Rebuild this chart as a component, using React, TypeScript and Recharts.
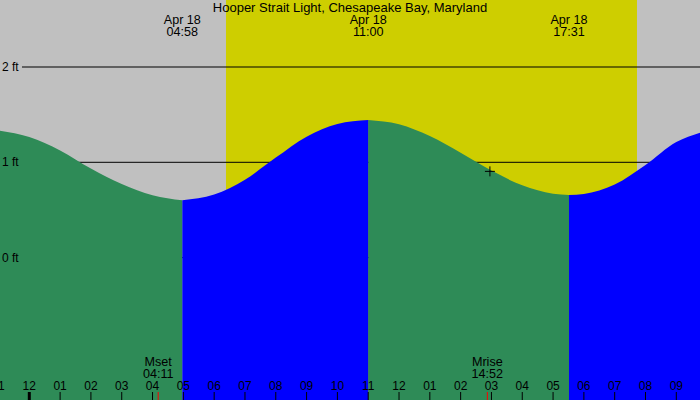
import React from 'react';
import { ComposedChart, Area, XAxis, YAxis, ReferenceArea, ReferenceLine, ReferenceDot } from 'recharts';

const TITLE = 'Hooper Strait Light, Chesapeake Bay, Maryland';
const FONT = '"Liberation Sans", Arial, sans-serif';

const X_MIN = -0.951;
const X_MAX = 21.769;
const Y_MIN = -1.494;
const Y_MAX = 2.703;

const HOURS = [-0.951, 0, 1, 2, 3, 4, 4.967, 6, 7, 8, 9, 10, 11, 12, 13, 14, 15, 16, 17, 17.517, 18, 19, 20, 21, 21.769];
const HEIGHTS = [1.332, 1.265, 1.125, 0.935, 0.772, 0.655, 0.601, 0.661, 0.818, 1.05, 1.269, 1.403, 1.444, 1.399, 1.275, 1.1, 0.913, 0.758, 0.67, 0.657, 0.668, 0.767, 0.972, 1.213, 1.311];

const LOW1 = 4.967;
const HIGH1 = 11;
const LOW2 = 17.517;

const EXTREME_HOURS = [4.967, 11, 17.517];
const EXTREME_DATES = ['Apr 18', 'Apr 18', 'Apr 18'];
const EXTREME_TIMES = ['04:58', '11:00', '17:31'];

const SUNRISE = 6.384;
const SUNSET = 19.724;

const MOON_HOURS = [4.183, 14.867];
const MOON_EVENTS = ['Mset', 'Mrise'];
const MOON_TIMES = ['04:11', '14:52'];

const TICK_HOURS = [-1, 0, 1, 2, 3, 4, 5, 6, 7, 8, 9, 10, 11, 12, 13, 14, 15, 16, 17, 18, 19, 20, 21];
const TICK_LABELS = ['11', '12', '01', '02', '03', '04', '05', '06', '07', '08', '09', '10', '11', '12', '01', '02', '03', '04', '05', '06', '07', '08', '09'];

const FT_TICKS = [0, 1, 2];
const FT_LABELS = ['0 ft', '1 ft', '2 ft'];
const LINE_START = -0.237;

const NOW_HOUR = 14.95;
const NOW_HEIGHT = 0.905;

const data = HOURS.map((h, i) => {
  const falling = h <= LOW1 || (h >= HIGH1 && h <= LOW2);
  const rising = (h >= LOW1 && h <= HIGH1) || h >= LOW2;
  return { h, fall: falling ? HEIGHTS[i] : null, rise: rising ? HEIGHTS[i] : null };
});

const HourTick = (props: any) => {
  const { x, payload } = props;
  const i = TICK_HOURS.indexOf(payload.value);
  return (
    <g>
      <line x1={x} x2={x} y1={392} y2={400} stroke="#000" strokeWidth={payload.value === 0 ? 3 : 1} />
      <text x={x} y={390} textAnchor="middle" fontSize={12} fontFamily={FONT} fill="#000">{TICK_LABELS[i]}</text>
    </g>
  );
};

const ExtremeTick = (props: any) => {
  const { x, payload } = props;
  const i = EXTREME_HOURS.indexOf(payload.value);
  return (
    <g>
      <text x={x} y={24} textAnchor="middle" fontSize={12.6} fontFamily={FONT} fill="#000">{EXTREME_DATES[i]}</text>
      <text x={x} y={36} textAnchor="middle" fontSize={12.6} fontFamily={FONT} fill="#000">{EXTREME_TIMES[i]}</text>
    </g>
  );
};

const MoonTick = (props: any) => {
  const { x, payload } = props;
  const i = MOON_HOURS.indexOf(payload.value);
  return (
    <g>
      <line x1={x} x2={x} y1={392} y2={400} stroke="#ff0000" strokeWidth={1} />
      <text x={x} y={366} textAnchor="middle" fontSize={12.6} fontFamily={FONT} fill="#000">{MOON_EVENTS[i]}</text>
      <text x={x} y={378} textAnchor="middle" fontSize={12.6} fontFamily={FONT} fill="#000">{MOON_TIMES[i]}</text>
    </g>
  );
};

const FtLabel = (props: any) => {
  const { viewBox, value } = props;
  const y = viewBox ? viewBox.y : 0;
  return (
    <text x={2} y={y + 4} textAnchor="start" fontSize={12} fontFamily={FONT} fill="#000">{value}</text>
  );
};

const Cross = (props: any) => {
  const { cx, cy } = props;
  return (
    <g>
      <line x1={cx - 5} x2={cx + 5} y1={cy} y2={cy} stroke="#000" strokeWidth={1} />
      <line x1={cx} x2={cx} y1={cy - 5} y2={cy + 5} stroke="#000" strokeWidth={1} />
    </g>
  );
};

export default function App() {
  return (
    <div style={{ position: 'absolute', left: 0, top: 0, width: 700, height: 400, background: '#C0C0C0', overflow: 'hidden' }}>
      <ComposedChart width={700} height={400} data={data} margin={{ top: 0, right: 0, bottom: 0, left: 0 }}>
        <XAxis xAxisId="main" dataKey="h" type="number" domain={[X_MIN, X_MAX]} allowDataOverflow ticks={TICK_HOURS} interval={0}
          orientation="bottom" mirror axisLine={false} tickLine={false} tick={HourTick} />
        <XAxis xAxisId="top" dataKey="h" type="number" domain={[X_MIN, X_MAX]} allowDataOverflow ticks={EXTREME_HOURS} interval={0}
          orientation="top" mirror axisLine={false} tickLine={false} tick={ExtremeTick} />
        <XAxis xAxisId="moon" dataKey="h" type="number" domain={[X_MIN, X_MAX]} allowDataOverflow ticks={MOON_HOURS} interval={0}
          orientation="bottom" mirror axisLine={false} tickLine={false} tick={MoonTick} />
        <YAxis yAxisId="y" type="number" domain={[Y_MIN, Y_MAX]} allowDataOverflow hide />
        <ReferenceArea xAxisId="main" yAxisId="y" x1={SUNRISE} x2={SUNSET} y1={Y_MIN} y2={Y_MAX} fill="#CECE00" fillOpacity={1} stroke="none" zIndex={-60} />
        {FT_TICKS.map((v) => (
          <ReferenceLine key={v} xAxisId="main" yAxisId="y" segment={[{ x: LINE_START, y: v }, { x: X_MAX, y: v }]} stroke="#000" strokeWidth={1} zIndex={-55} />
        ))}
        <Area xAxisId="main" yAxisId="y" dataKey="fall" type="monotone" baseValue={Y_MIN} fill="#2E8B57" fillOpacity={1} stroke="none" dot={false} activeDot={false} isAnimationActive={false} />
        <Area xAxisId="main" yAxisId="y" dataKey="rise" type="monotone" baseValue={Y_MIN} fill="#0000FF" fillOpacity={1} stroke="none" dot={false} activeDot={false} isAnimationActive={false} />
        {FT_TICKS.map((v, i) => (
          <ReferenceLine key={'l' + v} xAxisId="main" yAxisId="y" y={v} stroke="none" zIndex={800} label={<FtLabel value={FT_LABELS[i]} />} />
        ))}
        <ReferenceDot xAxisId="main" yAxisId="y" x={NOW_HOUR} y={NOW_HEIGHT} shape={Cross} />
      </ComposedChart>
      <div style={{ position: 'absolute', left: 0, top: 0, width: 700, textAlign: 'center', fontFamily: FONT, fontSize: 13, color: '#000' }}>{TITLE}</div>
    </div>
  );
}
